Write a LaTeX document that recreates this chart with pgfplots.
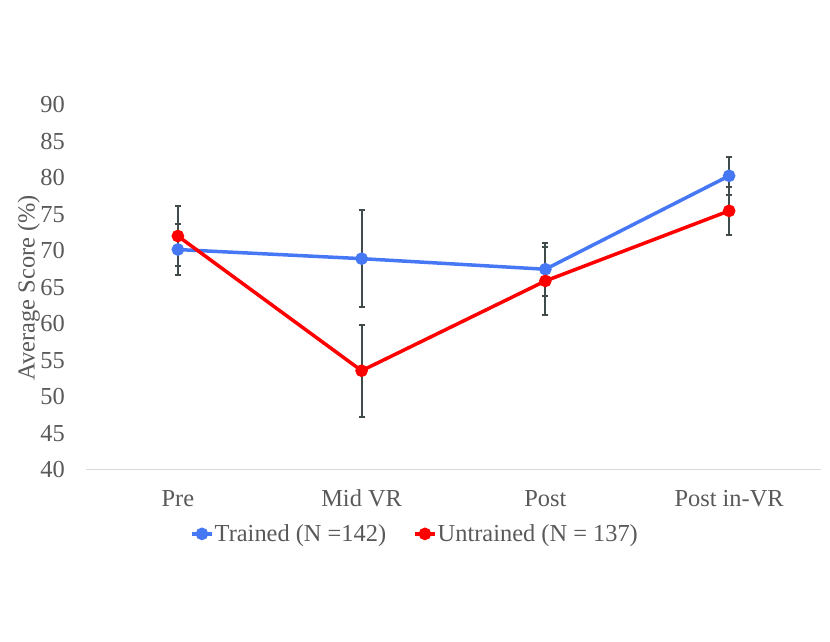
\documentclass[border=0pt]{standalone}
\usepackage{fontspec}
\setmainfont{Liberation Serif}
\usepackage{pgfplots}
\pgfplotsset{compat=1.18}
\definecolor{tblue}{RGB}{70,120,245}
\definecolor{ured}{RGB}{255,0,0}
\definecolor{txtgray}{RGB}{89,89,89}
\definecolor{errgray}{RGB}{64,76,76}
\definecolor{axgray}{RGB}{217,217,217}
\begin{document}
\begin{tikzpicture}
\useasboundingbox (0,0) rectangle (830bp,642bp);
\begin{axis}[
  at={(86bp,172bp)}, anchor=south west,
  scale only axis, width=735bp, height=365bp,
  xmin=-0.5, xmax=3.5, ymin=40, ymax=90,
  xtick={0,1,2,3}, xticklabels={Pre,Mid VR,Post,Post in-VR},
  ytick={40,45,...,90},
  axis x line=bottom, axis y line=left,
  axis line style={-},
  x axis line style={draw=axgray, line width=1bp, -},
  y axis line style={draw=none},
  major tick length=0pt,
  /pgf/number format/assume math mode=true,
  tick label style={font=\fontsize{24.5}{29}\selectfont, text=txtgray},
  yticklabel style={anchor=east, inner sep=0pt, xshift=-21bp},
  xticklabel style={anchor=base, inner sep=0pt, yshift=-36.7bp},
  ylabel={Average Score (\%)},
  ylabel style={at={(axis description cs:-0.078,0.5)}, anchor=center, font=\fontsize{24.5}{29}\selectfont, text=txtgray},
  legend columns=2,
  legend style={at={(axis description cs:0.447,-0.175)}, anchor=center, draw=none, fill=none,
    font=\fontsize{24.5}{29}\selectfont, text=txtgray,
    /tikz/every odd column/.append style={column sep=0bp},
    /tikz/every even column/.append style={column sep=26bp},
    inner sep=0pt, nodes={inner sep=1bp}},
  legend image code/.code={\draw[mark repeat=2,mark phase=2] plot coordinates {(0bp,0bp)(10bp,0bp)(20bp,0bp)};},
  every axis plot/.append style={line width=3.5bp, mark=*, mark size=4.5bp},
  error bars/error bar style={color=errgray, line width=2bp},
  error bars/error mark options={rotate=90, mark size=3bp, line width=2bp, color=errgray},
]
\addplot[color=tblue, mark options={fill=tblue, draw=tblue}, error bars/.cd, y dir=both, y explicit]
  coordinates {(0,70.2) +- (0,3.5) (1,68.95) +- (0,6.65) (2,67.5) +- (0,3.6) (3,80.3) +- (0,2.6)};
\addlegendentry{Trained (N =142)}
\addplot[color=ured, mark options={fill=ured, draw=ured}, error bars/.cd, y dir=both, y explicit]
  coordinates {(0,72.05) +- (0,4.1) (1,53.6) +- (0,6.3) (2,65.9) +- (0,4.7) (3,75.5) +- (0,3.3)};
\addlegendentry{Untrained (N = 137)}
\end{axis}
\end{tikzpicture}
\end{document}
